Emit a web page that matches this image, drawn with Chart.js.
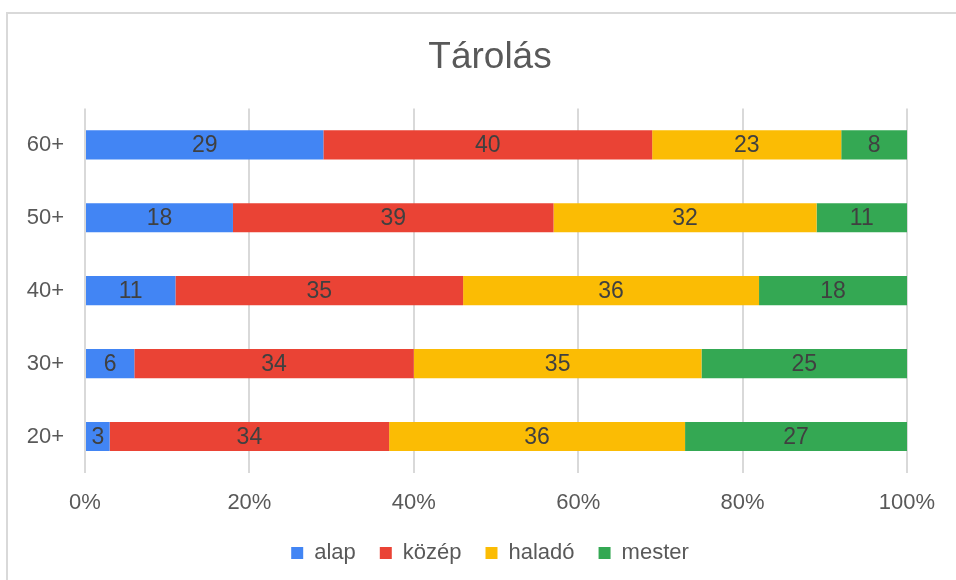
<!DOCTYPE html>
<html>
<head>
<meta charset="utf-8">
<script src="https://cdn.jsdelivr.net/npm/chart.js@4/dist/chart.umd.min.js"></script>
<style>
  body { margin: 0; background: #fff; overflow: hidden; }
  #frame { position: absolute; left: 6px; top: 12px; width: 980px; height: 600px; border: 2px solid #d9d9d9; }
  #wrap { position: absolute; left: 0; top: 0; width: 980px; height: 580px; }
</style>
</head>
<body>
<div id="frame"></div>
<div id="wrap"><canvas id="chartTarolas"></canvas></div>
<script>
var categories = ['60+', '50+', '40+', '30+', '20+'];
var alap = [29, 18, 11, 6, 3];
var kozep = [40, 39, 35, 34, 34];
var halado = [23, 32, 36, 35, 36];
var mester = [8, 11, 18, 25, 27];

var fontName = "'Liberation Sans', Arial, sans-serif";

// values written in the middle of each segment
var barLabels = {
    id: 'barLabels',
    afterDatasetsDraw: function(chart) {
        var ctx = chart.ctx;
        ctx.save();
        ctx.font = '23px ' + fontName;
        ctx.fillStyle = '#404040';
        ctx.textAlign = 'center';
        ctx.textBaseline = 'middle';
        chart.data.datasets.forEach(function(ds, i) {
            var meta = chart.getDatasetMeta(i);
            meta.data.forEach(function(bar, j) {
                ctx.fillText(ds.data[j], (bar.x + bar.base) / 2, bar.y + 1);
            });
        });
        ctx.restore();
    }
};

var chartTarolas = new Chart(document.getElementById("chartTarolas"), {
    type: 'bar',
    data: {
        labels: categories,
        datasets: [{
            label: "alap",
            backgroundColor: '#4285F4',
            data: alap,
        },
        {
            label: "közép",
            backgroundColor: '#EA4335',
            data: kozep,
        },
        {
            label: "haladó",
            backgroundColor: '#FBBC04',
            data: halado,
        },
        {
            label: "mester",
            backgroundColor: '#34A853',
            data: mester,
        }]
    },
    options: {
        indexAxis: 'y',
        responsive: true,
        maintainAspectRatio: false,
        animation: false,
        barPercentage: 0.4,
        categoryPercentage: 1,
        layout: {
            padding: { top: 0, right: 0, bottom: 6, left: 0 }
        },
        scales: {
            x: {
                stacked: true,
                min: 0,
                max: 100,
                ticks: {
                    stepSize: 20,
                    padding: 19,
                    color: '#595959',
                    font: { family: fontName, size: 22, lineHeight: 1 },
                    callback: function(v) { return v + '%'; }
                },
                grid: { color: '#d9d9d9', lineWidth: 2, drawTicks: false },
                border: { display: false },
                afterFit: function(scale) { scale.height = 45; }
            },
            y: {
                stacked: true,
                ticks: {
                    padding: 13,
                    color: '#595959',
                    font: { family: fontName, size: 22 }
                },
                grid: { display: false },
                border: { display: false },
                afterFit: function(scale) { scale.width = 85; }
            },
            // empty space on the right, chart was wider than the window
            yRight: {
                type: 'linear',
                position: 'right',
                ticks: { display: false },
                grid: { display: false },
                border: { display: false },
                afterFit: function(scale) { scale.width = 73; }
            }
        },
        plugins: {
            title: {
                display: true,
                text: 'Tárolás',
                color: '#595959',
                font: { family: fontName, size: 37, weight: 'normal' },
                padding: { top: 36, bottom: 28 }
            },
            legend: {
                position: 'bottom',
                labels: {
                    boxWidth: 12,
                    boxHeight: 12,
                    padding: 24,
                    color: '#595959',
                    font: { family: fontName, size: 22 }
                }
            },
            tooltip: { enabled: false }
        }
    },
    plugins: [barLabels]
});
</script>
</body>
</html>
